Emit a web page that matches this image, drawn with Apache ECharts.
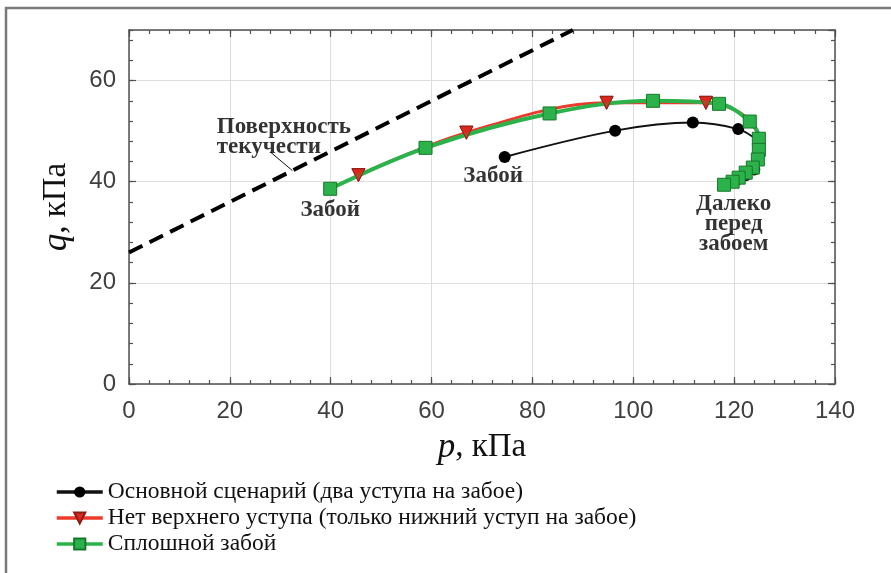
<!DOCTYPE html>
<html><head><meta charset="utf-8">
<script src="https://cdn.jsdelivr.net/npm/echarts@6/dist/echarts.min.js"></script>
<style>html,body{margin:0;padding:0;background:#fff}#c{width:891px;height:573px}</style>
</head><body><div id="c"></div>
<script>
// ---- data ----
const xTicks = [0, 20, 40, 60, 80, 100, 120, 140];
const yTicks = [0, 20, 40, 60];
const yMax = 70;
const seriesNames = [
  'Основной сценарий (два уступа на забое)',
  'Нет верхнего уступа (только нижний уступ на забое)',
  'Сплошной забой'
];
// [p, q] in kPa
const baseCase = [[74.5,44.9],[96.4,50.1],[111.8,51.7],[120.8,50.4],[124.6,48.2],[126.0,46.3],[125.5,44.2],[124.0,42.4],[122.3,41.3],[120.7,40.5],[119.3,39.9],[118.3,39.4]];
const baseCaseHiddenMarkers = [4,5,6];
const noUpperBench = [[45.5,41.3],[66.9,49.7],[94.7,55.6],[114.4,55.6],[120.5,54.0],[123.6,51.3],[125.2,47.8],[125.0,44.6],[123.6,42.4],[121.2,40.6],[118.4,39.5]];
const noUpperMarkers = 4; // number of visible triangle markers
const fullFace = [[39.9,38.6],[58.8,46.7],[83.4,53.5],[103.9,56.0],[117.0,55.4],[123.1,51.9],[124.9,48.5],[124.9,46.3],[124.7,44.4],[123.7,42.8],[122.3,41.8],[120.9,40.8],[119.7,40.0],[118.0,39.4]];
const yieldSurface = [[0,26],[88,70]];
const leader = [[28.0,45.9],[32.4,42.2]];
const annotations = [
  {name:'Поверхность\nтекучести', value:[17.4,48.9], align:'left'},
  {name:'Забой', value:[39.9,34.4], align:'center'},
  {name:'Забой', value:[72.2,41.1], align:'center'},
  {name:'Далеко\nперед\nзабоем', value:[119.9,31.6], align:'center'}
];

const chart = echarts.init(document.getElementById('c'), null, {renderer:'canvas'});
const axisCol = '#505050';
const labelFont = 'Liberation Sans, Arial, sans-serif';
const serif = 'Liberation Serif, Times New Roman, serif';

function xa(pos, major, opts) {
  return Object.assign({
    type:'value', position:pos, min:xTicks[0], max:xTicks[xTicks.length-1],
    interval: major ? xTicks[1]-xTicks[0] : (xTicks[1]-xTicks[0])/5,
    axisLine:{show:major, onZero:false, lineStyle:{color:axisCol, width:1.5}},
    axisTick:{show:true, inside:true, length: major?7:4, lineStyle:{color:axisCol, width:1.2}},
    axisLabel:{show:false}, splitLine:{show:false}
  }, opts||{});
}
function ya(pos, major, opts) {
  return Object.assign({
    type:'value', position:pos, min:0, max:yMax,
    interval: major ? yTicks[1]-yTicks[0] : (yTicks[1]-yTicks[0])/5,
    axisLine:{show:major, onZero:false, lineStyle:{color:axisCol, width:1.5}},
    axisTick:{show:true, inside:true, length: major?7:4, lineStyle:{color:axisCol, width:1.2}},
    axisLabel:{show:false}, splitLine:{show:false}
  }, opts||{});
}

const redScatterData = noUpperBench.slice(0, noUpperMarkers);

const option = {
  animation:false,
  backgroundColor:'#fff',
  grid:{left:129, right:56, top:30, bottom:189, containLabel:false},
  legend:{
    data:seriesNames, orient:'vertical', left:50, top:475, itemWidth:46, itemHeight:14, itemGap:2,
    lineStyle:{width:3.5},
    textStyle:{fontFamily:serif, fontSize:23.5, lineHeight:24, color:'#111'}, selectedMode:false
  },
  xAxis:[
    xa('bottom', true, {
      axisLabel:{show:true, fontFamily:labelFont, fontSize:24, color:'#404040', margin:15},
      splitLine:{show:true, lineStyle:{color:'#dedede', width:1}},
      name:'{i|p}, кПа', nameLocation:'middle', nameGap:46,
      nameTextStyle:{fontFamily:serif, fontSize:33, color:'#111', rich:{i:{fontStyle:'italic', fontFamily:serif, fontSize:35, color:'#111'}}}
    }),
    xa('top', true),
    xa('bottom', false),
    xa('top', false)
  ],
  yAxis:[
    ya('left', true, {
      axisLabel:{show:true, showMaxLabel:false, fontFamily:labelFont, fontSize:24, color:'#404040', margin:13},
      splitLine:{show:true, lineStyle:{color:'#dedede', width:1}},
      name:'{i|q}, кПа', nameLocation:'middle', nameGap:55, nameRotate:90,
      nameTextStyle:{fontFamily:serif, fontSize:33, color:'#111', rich:{i:{fontStyle:'italic', fontFamily:serif, fontSize:35, color:'#111'}}}
    }),
    ya('right', true),
    ya('left', false),
    ya('right', false)
  ],
  graphic:[
    {type:'line', shape:{x1:5, y1:8, x2:891, y2:8}, style:{stroke:'#7a7a7a', lineWidth:2.5}},
    {type:'line', shape:{x1:6, y1:7, x2:6, y2:573}, style:{stroke:'#7a7a7a', lineWidth:2.5}}
  ],
  series:[
    {type:'line', name:'yield', data:yieldSurface, symbol:'none', silent:true, z:1,
     lineStyle:{color:'#000', width:4, type:[15,8]}},
    {type:'line', name:'leader', data:leader, symbol:'none', silent:true, z:1,
     lineStyle:{color:'#111', width:1}},
    {type:'line', name:seriesNames[0], data:baseCase.map((v,i)=>({value:v, symbolSize: baseCaseHiddenMarkers.includes(i)?0:12})), smooth:0.35, z:2,
     symbol:'circle', symbolSize:12, showAllSymbol:true,
     lineStyle:{color:'#111', width:2}, itemStyle:{color:'#000'}},
    {type:'line', name:seriesNames[1], data:noUpperBench.map((v,i)=>({value:v, symbolSize: i<noUpperMarkers?13:0})), smooth:0.35, z:3,
     symbol:'triangle', symbolRotate:180, symbolSize:13, showAllSymbol:true,
     lineStyle:{color:'#ec3a2c', width:3}, itemStyle:{color:'#d9281e', borderColor:'#8e1a14', borderWidth:1}},
    {type:'line', name:seriesNames[2], data:fullFace, smooth:0.35, z:4,
     symbol:'rect', symbolSize:13, showAllSymbol:true,
     lineStyle:{color:'#2bb24a', width:4}, itemStyle:{color:'#2bb24a', borderColor:'#17772a', borderWidth:1}},
    {type:'scatter', name:seriesNames[1], data:redScatterData, z:5,
     symbol:'triangle', symbolRotate:180, symbolSize:13,
     itemStyle:{color:'#d9281e', borderColor:'#8e1a14', borderWidth:1}},
    {type:'scatter', name:'annotations', silent:true, z:6, symbolSize:0,
     data:annotations.map(a=>({name:a.name, value:a.value,
       label:{show:true, position:'inside', formatter:'{b}', align:a.align,
         fontFamily:serif, fontWeight:'bold', fontSize:23, lineHeight:20, color:'#000'}}))}
  ]
};
chart.setOption(option);
</script>
</body></html>
